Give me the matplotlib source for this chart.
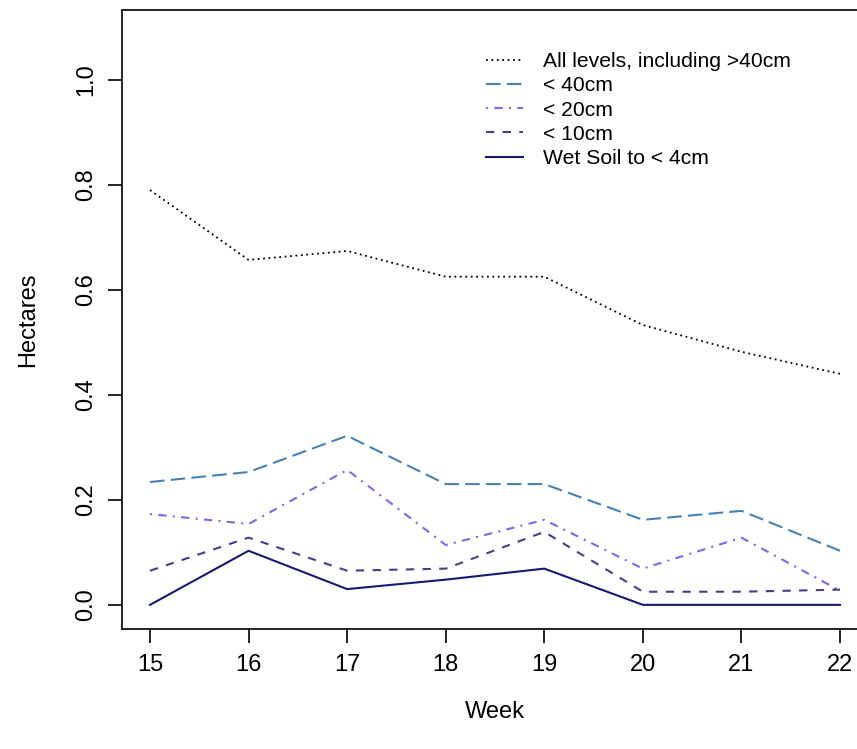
import numpy as np
import matplotlib
matplotlib.use("Agg")
import matplotlib.pyplot as plt

plt.rcParams['font.family'] = ['Liberation Sans', 'DejaVu Sans']

weeks = [15, 16, 17, 18, 19, 20, 21, 22]
all_levels = [0.790, 0.657, 0.674, 0.625, 0.625, 0.533, 0.482, 0.440]
under_40 = [0.234, 0.253, 0.322, 0.230, 0.230, 0.162, 0.179, 0.103]
under_20 = [0.173, 0.154, 0.257, 0.114, 0.162, 0.069, 0.128, 0.027]
under_10 = [0.065, 0.128, 0.065, 0.069, 0.139, 0.025, 0.025, 0.029]
wet_soil = [0.000, 0.103, 0.030, 0.048, 0.069, 0.000, 0.000, 0.000]

labels = ["All levels, including >40cm", "< 40cm", "< 20cm", "< 10cm",
          "Wet Soil to < 4cm"]

fig = plt.figure(figsize=(8.57, 7.49), dpi=100)
# box runs past the right edge of the canvas
ax = fig.add_axes([122 / 857, 1 - 629 / 749, 746 / 857, 619 / 749])

lw = 1.5
ax.plot(weeks, all_levels, color='black', lw=1.3, ls=(0, (1, 2)))
ax.plot(weeks, under_40, color='#4682B4', lw=lw, ls=(0, (7, 3)))
ax.plot(weeks, under_20, color='#7B68EE', lw=lw, ls=(0, (1, 3, 4, 3)))
ax.plot(weeks, under_10, color='#483D8B', lw=lw, ls=(0, (4, 4)))
ax.plot(weeks, wet_soil, color='#191970', lw=lw, ls='-')

ax.set_xlim(14.716, 22.284)
ax.set_ylim(-0.046, 1.133)
ax.set_xticks(weeks)
ax.set_yticks([0.0, 0.2, 0.4, 0.6, 0.8, 1.0])
ax.set_yticklabels(['0.0', '0.2', '0.4', '0.6', '0.8', '1.0'],
                   rotation=90, va='center')
ax.tick_params(axis='both', labelsize=17, length=10, width=1.2)
ax.tick_params(axis='x', pad=8)
ax.tick_params(axis='y', pad=8)
for s in ax.spines.values():
    s.set_linewidth(1.2)

ax.set_xlabel('Week', fontsize=17, labelpad=18)
ax.set_ylabel('Hectares', fontsize=17, labelpad=26)

ax.legend(ax.get_lines(), labels, loc='upper left',
          bbox_to_anchor=(486 / 857, 1 - 52 / 749), bbox_transform=fig.transFigure,
          frameon=False, fontsize=15.2, handlelength=1.75, handletextpad=0.95,
          labelspacing=0.25, borderpad=0, borderaxespad=0)

fig.savefig('out.png', dpi=100)
